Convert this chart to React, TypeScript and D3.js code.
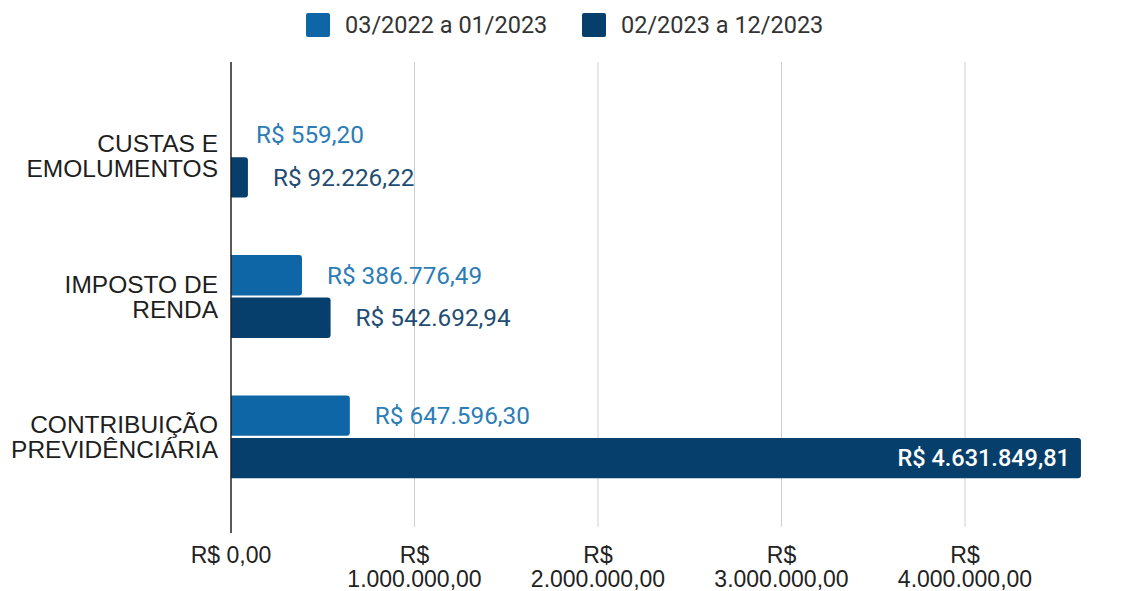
import React, { useRef, useEffect } from "react";
import * as d3 from "d3";

const categories = ["CUSTAS E\nEMOLUMENTOS", "IMPOSTO DE\nRENDA", "CONTRIBUIÇÃO\nPREVIDÊNCIÁRIA"];
const seriesNames = ["03/2022 a 01/2023", "02/2023 a 12/2023"];
const period1 = [559.2, 386776.49, 647596.3];
const period2 = [92226.22, 542692.94, 4631849.81];
const tickValues = [0, 1000000, 2000000, 3000000, 4000000];
const colors = ["#0f66a6", "#063f6b"];
const labelColors = ["#2b7db6", "#1f4d73"];

const brl = d3.formatLocale({
    decimal: ",",
    thousands: ".",
    grouping: [3],
    currency: ["R$ ", ""],
});
const fmt = brl.format("$,.2f");

// bar with rounded right corners
function barPath(x0, y0, w, h, r) {
    r = Math.min(r, w, h / 2);
    return `M${x0},${y0}H${x0 + w - r}Q${x0 + w},${y0} ${x0 + w},${y0 + r}V${y0 + h - r}Q${x0 + w},${y0 + h} ${x0 + w - r},${y0 + h}H${x0}Z`;
}

function App() {
    const svgRef = useRef(null);
    useEffect(() => {
        const svg = d3.select(svgRef.current);
        svg.selectAll("*").remove();

        const x = d3.scaleLinear().domain([0, 4000000]).range([231, 965]);
        const y = d3.scaleBand().domain(categories).range([86, 507]).paddingInner(0.41).paddingOuter(0.205);
        const ySub = d3.scaleBand().domain(["0", "1"]).range([0, y.bandwidth()]).paddingInner(0.05);

        const rows = categories.map((c, i) => ({ cat: c, vals: [period1[i], period2[i]] }));

        // gridlines
        svg.append("g")
            .selectAll("line")
            .data(tickValues.filter((d) => d > 0))
            .enter()
            .append("line")
            .attr("x1", (d) => x(d)).attr("x2", (d) => x(d))
            .attr("y1", 62).attr("y2", 527)
            .attr("stroke", "#cfcfcf")
            .attr("stroke-width", 1);

        // bars
        const g = svg.append("g");
        rows.forEach((row) => {
            row.vals.forEach((v, s) => {
                const y0 = y(row.cat) + ySub(String(s));
                const h = ySub.bandwidth();
                const w = x(v) - x(0);
                if (w >= 1) {
                    g.append("path")
                        .attr("d", barPath(x(0), y0, w, h, 3))
                        .attr("fill", colors[s]);
                }
                const big = w > 500;
                g.append("text")
                    .attr("x", big ? x(v) - 11 : x(v) + 25)
                    .attr("y", y0 + h / 2)
                    .attr("dy", "0.35em")
                    .attr("text-anchor", big ? "end" : "start")
                    .attr("fill", big ? "#ffffff" : labelColors[s])
                    .style("font-family", "Roboto, sans-serif")
                    .style("font-size", big ? "23.5px" : "24.3px")
                    .style("font-weight", big ? 500 : 400)
                    .text(fmt(v));
            });
        });

        // axis line
        svg.append("line")
            .attr("x1", x(0)).attr("x2", x(0))
            .attr("y1", 62).attr("y2", 533)
            .attr("stroke", "#222")
            .attr("stroke-width", 1.5);

        // category labels
        rows.forEach((row) => {
            const lines = row.cat.split("\n");
            const cy = y(row.cat) + y.bandwidth() / 2;
            const t = svg.append("text")
                .attr("text-anchor", "end")
                .attr("fill", "#1e1e1e")
                .style("font-family", "'Liberation Sans', Arial, sans-serif")
                .style("font-size", "24.5px");
            lines.forEach((l, i) => {
                t.append("tspan")
                    .attr("x", 218)
                    .attr("y", cy + (i - (lines.length - 1) / 2) * 25)
                    .attr("dy", "0.36em")
                    .text(l);
            });
        });

        // x tick labels
        tickValues.forEach((d) => {
            const label = fmt(d);
            const lines = d === 0 ? [label] : label.split(" ");
            const t = svg.append("text")
                .attr("text-anchor", "middle")
                .attr("fill", "#222")
                .style("font-family", "'Liberation Sans', Arial, sans-serif")
                .style("font-size", "23px");
            lines.forEach((l, i) => {
                t.append("tspan")
                    .attr("x", x(d))
                    .attr("y", 563 + i * 23.5)
                    .text(l);
            });
        });

        // legend
        const legendX = [306, 582];
        seriesNames.forEach((name, i) => {
            svg.append("rect")
                .attr("x", legendX[i]).attr("y", 13)
                .attr("width", 24).attr("height", 24)
                .attr("rx", 2)
                .attr("fill", colors[i]);
            svg.append("text")
                .attr("x", legendX[i] + 39)
                .attr("y", 25)
                .attr("dy", "0.35em")
                .attr("fill", "#333")
                .style("font-family", "Roboto, sans-serif")
                .style("font-size", "23.5px")
                .text(name);
        });

        return () => {
            d3.select(svgRef.current).selectAll("*").remove();
        };
    }, []);

    return (
        <svg ref={svgRef} width={1140} height={591}
            style={{ position: "absolute", left: 0, top: 0, background: "#fff" }} />
    );
}

export default App;
